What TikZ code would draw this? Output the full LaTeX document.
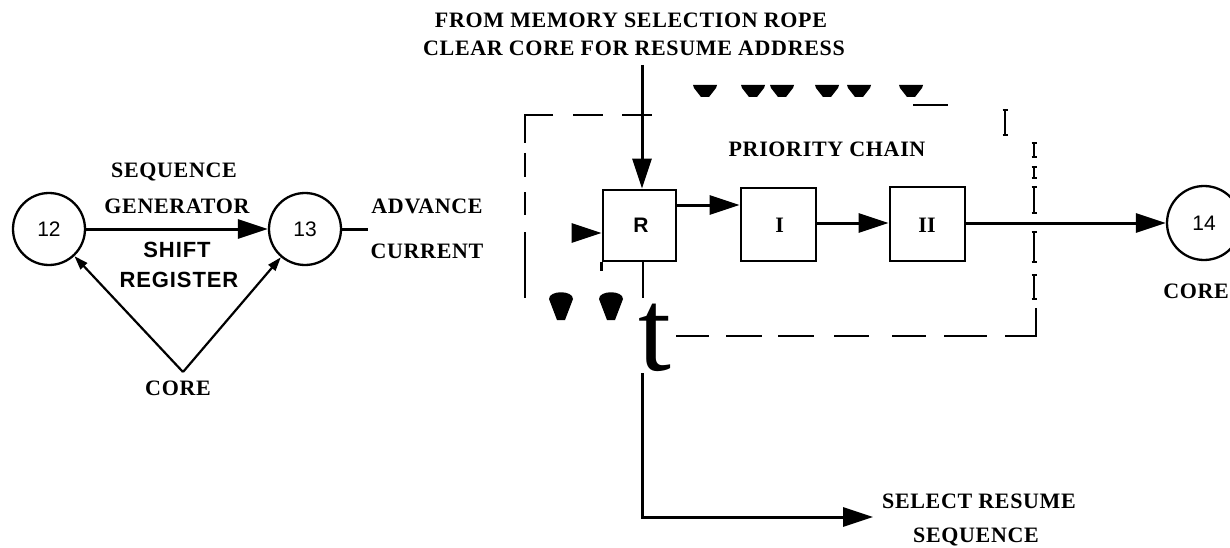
\documentclass[tikz,border=0pt]{standalone}
\usepackage{fontspec}
\usetikzlibrary{arrows.meta}
\newfontfamily\lblfont[LetterSpace=3]{Liberation Serif}
\newfontfamily\leroyfont[LetterSpace=4]{Liberation Sans}
\newfontfamily\numfont{Liberation Sans}
\newfontfamily\tfont{Liberation Serif}
\newcommand{\ibm}[3]{\draw[line width=1.8pt] (#1,#2) -- (#1,#3); \draw[line width=1.6pt] (#1-2.5,#2) -- (#1+2.5,#2) (#1-2.5,#3) -- (#1+2.5,#3);}
\newcommand{\topblob}[1]{\fill (#1-12,85) -- (#1+12,85) -- (#1+11,88) .. controls (#1+8,93) .. (#1+4,97) -- (#1-4,97) .. controls (#1-8,93) .. (#1-11,88) -- cycle;}
\newcommand{\lowblob}[1]{\fill (#1-12,299) .. controls (#1-12,290) and (#1+12,290) .. (#1+12,299) -- (#1+4,320) -- (#1-4,320) -- cycle;}
\begin{document}
\begin{tikzpicture}[x=1pt,y=-1pt,
  lab/.style={font=\lblfont\bfseries\fontsize{22}{22}\selectfont, inner sep=0pt, anchor=base},
  leroy/.style={font=\leroyfont\bfseries\fontsize{22}{22}\selectfont, inner sep=0pt, anchor=base},
  circ/.style={draw, circle, line width=2.3pt, minimum size=72pt, inner sep=0pt, font=\numfont\fontsize{21}{21}\selectfont},
  box/.style={draw, line width=2.8pt, inner sep=0pt},
  boxlab/.style={inner sep=0pt},
  big/.style={-{Triangle[length=30pt,width=19pt]}, line width=3pt},
  small/.style={-{Triangle[length=14pt,width=9pt]}, line width=2.2pt},
  plain/.style={line width=3pt},
  dsh/.style={line width=2.8pt},
]
\useasboundingbox (0,0) rectangle (1230,548);
\clip (0,0) rectangle (1230,548);
\fill[white] (0,0) rectangle (1230,548);

% ---- left part
\node[circ] (c12) at (49,229) {12};
\node[circ] (c13) at (305,229) {13};
\draw[big] (c12) -- (c13);
\node[lab] (seq) at (174,178) {SEQUENCE};
\node[lab] (gen) at (177,213) {GENERATOR};
\node[leroy] (shift) at (177,257) {SHIFT};
\node[leroy] (reg) at (179,287) {REGISTER};
\node[lab] (core1) at (178,395) {CORE};
\coordinate (apex) at (183,372);
\draw[small] (apex) -- (c12);
\draw[small] (apex) -- (c13);
\coordinate (advend) at (368,229);
\draw[plain] (c13.east) -- (advend);
\node[lab] (adv) at (427,213) {ADVANCE};
\node[lab] (cur) at (427,258) {CURRENT};

% ---- top texts
\node[lab] (t1) at (631,28) {FROM MEMORY SELECTION ROPE};
\node[lab] (t2) at (634,56) {CLEAR CORE FOR RESUME ADDRESS};

% ---- chain
\node[box, minimum width=73pt, minimum height=71pt] (R) at (639.5,225.5) {};
\node[box, minimum width=75pt, minimum height=73pt] (I) at (778.5,224.5) {};
\node[box, minimum width=75pt, minimum height=74pt] (II) at (927.5,224) {};
\node[boxlab, font=\numfont\bfseries\fontsize{21}{21}\selectfont] (Rl) at (641,225) {R};
\node[boxlab, font=\tfont\bfseries\fontsize{22}{22}\selectfont] (Il) at (779.6,225) {I};
\node[boxlab, font=\tfont\bfseries\fontsize{22}{22}\selectfont] (IIl) at (927,225) {II};
\draw[plain] (R.south west) -- ++(0,9);

\coordinate (topin) at (642,65);
\draw[big] (topin) -- (topin |- R.north);
\coordinate (advin) at (573,233);
\draw[big] (advin) -- (R.west |- advin);
\draw[big] (R.east |- 0,205) -- (I.west |- 0,205);
\draw[big] (I.east |- 0,223) -- (II.west |- 0,223);
\node[circ, minimum size=74pt] (c14) at (1204,223) {14};
\draw[big] (II.east |- c14) -- (c14);
\node[lab, anchor=base east] (core2) at (1229,298) {CORE};
\node[lab] (pc) at (827,157) {PRIORITY CHAIN};

% ---- dashed enclosure (as scanned)
\draw[dsh] (553,115) -- (525,115) -- (525,143);
\draw[dsh] (573,115) -- (603,115);
\draw[dsh] (622,115) -- (652,115);
\draw[dsh] (525,153) -- (525,177);
\draw[dsh] (525,192) -- (525,215);
\draw[dsh] (525,232) -- (525,267);
\draw[line width=1.4pt] (525,267) -- (525,298);
\topblob{705}\topblob{753}\topblob{782}\topblob{827}\topblob{859}\topblob{911}
\draw[dsh] (913,105) -- (948,105);
\ibm{1005}{110}{135}
\ibm{1034}{143}{157}
\ibm{1034}{167}{178}
\ibm{1034}{187}{213}
\ibm{1034}{232}{262}
\ibm{1034}{275}{299}
\draw[dsh] (1036,308) -- (1036,336) -- (1005,336);
\foreach \a/\b in {676/709,726/762,778/814,834/869,892/926,944/987}
  \draw[dsh] (\a,336) -- (\b,336);
\lowblob{561}\lowblob{611}
\draw[line width=1.4pt] (643,261) -- (643,298);
\node[font=\tfont\fontsize{118}{118}\selectfont, inner sep=0pt, anchor=base] (tt) at (655,370) {t};

% ---- resume path
\coordinate (tbot) at (642,373);
\coordinate (selend) at (873,517);
\draw[big] (tbot) |- (selend);
\node[lab] (sr) at (979,508) {SELECT RESUME};
\node[lab] (sq) at (976,542) {SEQUENCE};
\end{tikzpicture}
\end{document}
